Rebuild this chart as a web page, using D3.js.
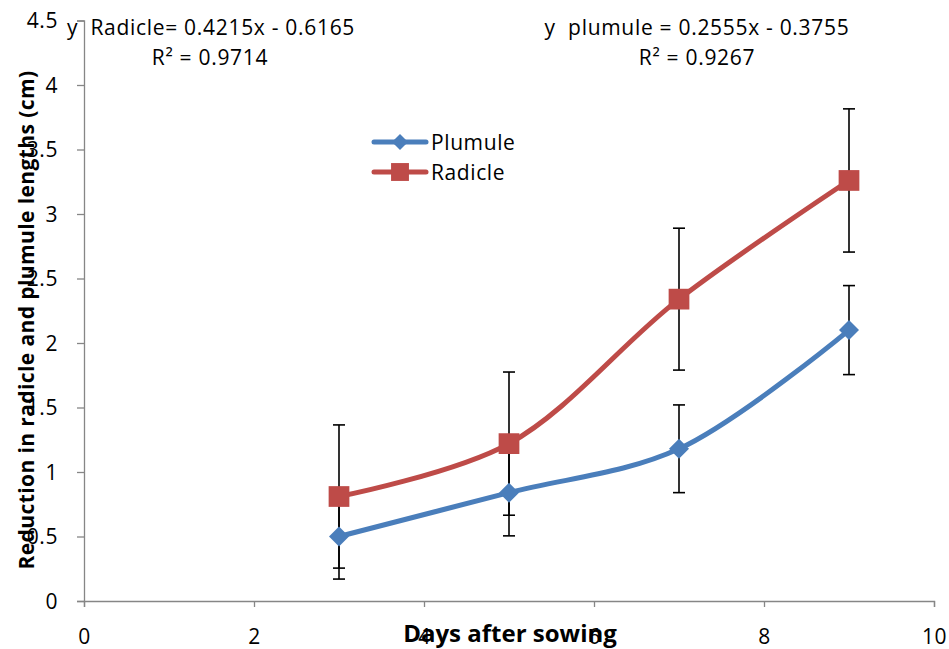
<!DOCTYPE html>
<html>
<head>
<meta charset="utf-8">
<script src="https://cdn.jsdelivr.net/npm/d3@7"></script>
<style>
  body { margin: 0; background: #fff; }
  svg { font-family: "Open Sans", Lato, sans-serif; }
</style>
</head>
<body>
<svg></svg>
<script>
// values
let days = [3, 5, 7, 9];
let plumule = [0.5, 0.84, 1.18, 2.1];
let plumuleErr = [0.33, 0.335, 0.34, 0.345];
let radicle = [0.81, 1.22, 2.34, 3.26];
let radicleErr = [0.555, 0.555, 0.55, 0.555];
let xTicks = [0, 2, 4, 6, 8, 10];
let yTicks = [0, 0.5, 1, 1.5, 2, 2.5, 3, 3.5, 4, 4.5];

let width = 949;
let height = 649;
let plotLeft = 84;
let plotRight = 934;
let plotTop = 20.5;
let plotBottom = 601;

let svg = d3.select("svg").attr("width", width).attr("height", height);

let xScale = d3.scaleLinear().domain([0, 10]).range([plotLeft, plotRight]);
let yScale = d3.scaleLinear().domain([0, 4.5]).range([plotBottom, plotTop]);

let blue = "#4a7ebb";
let red = "#be4b48";
let axisGray = "#868686";

// axes
let xAxis = d3.axisBottom(xScale).tickValues(xTicks).tickSize(6).tickPadding(22).tickFormat(d3.format("d"));
let yAxis = d3.axisLeft(yScale).tickValues(yTicks).tickSize(7).tickPadding(19).tickFormat((d) => String(d));

let gx = svg.append("g").attr("transform", `translate(0, ${plotBottom})`).call(xAxis);
let gy = svg.append("g").attr("transform", `translate(${plotLeft}, 0)`).call(yAxis);

[gx, gy].forEach((g) => {
  g.select(".domain").attr("stroke", axisGray).attr("stroke-width", 1.3);
  g.selectAll(".tick line").attr("stroke", axisGray).attr("stroke-width", 1.3);
  g.selectAll(".tick text")
    .attr("fill", "#000")
    .style("font-size", "21px")
    .style("letter-spacing", "0.6px")
    .style("font-family", "Open Sans");
});
gy.selectAll(".tick text").attr("dy", "0.35em");

// axis titles
svg.append("text")
  .attr("x", 510)
  .attr("y", 642)
  .attr("text-anchor", "middle")
  .style("font-size", "24px")
  .style("font-weight", "bold")
  .text("Days after sowing");

svg.append("text")
  .attr("transform", "translate(34, 320) rotate(-90)")
  .attr("text-anchor", "middle")
  .style("font-size", "21px")
  .style("letter-spacing", "0.4px")
  .style("font-weight", "bold")
  .text("Reduction in radicle and plumule lengths (cm)");

let series = [
  { name: "Plumule", values: plumule, err: plumuleErr, color: blue, marker: d3.symbolSquare, rot: 45, size: 200, legendSize: 130 },
  { name: "Radicle", values: radicle, err: radicleErr, color: red, marker: d3.symbolSquare, rot: 0, size: 430, legendSize: 320 },
];

// error bars
series.forEach((s) => {
  let g = svg.append("g").attr("stroke", "#000").attr("stroke-width", 1.6);
  days.forEach((d, i) => {
    let x = xScale(d);
    let lo = yScale(s.values[i] - s.err[i]);
    let hi = yScale(s.values[i] + s.err[i]);
    g.append("line").attr("x1", x).attr("x2", x).attr("y1", lo).attr("y2", hi);
    g.append("line").attr("x1", x - 6).attr("x2", x + 6).attr("y1", lo).attr("y2", lo);
    g.append("line").attr("x1", x - 6).attr("x2", x + 6).attr("y1", hi).attr("y2", hi);
  });
});

// smoothed lines and markers
let line = d3.line()
  .x((d) => xScale(d[0]))
  .y((d) => yScale(d[1]))
  .curve(d3.curveCatmullRom.alpha(0.5));

series.forEach((s) => {
  let pts = days.map((d, i) => [d, s.values[i]]);
  svg.append("path")
    .datum(pts)
    .attr("fill", "none")
    .attr("stroke", s.color)
    .attr("stroke-width", 5)
    .attr("stroke-linecap", "round")
    .attr("d", line);
  svg.selectAll(null)
    .data(pts)
    .enter()
    .append("path")
    .attr("transform", (d) => `translate(${xScale(d[0])}, ${yScale(d[1])}) rotate(${s.rot})`)
    .attr("d", d3.symbol().type(s.marker).size(s.size))
    .attr("fill", s.color);
});

// legend
series.forEach((s, i) => {
  let y = 142 + i * 30;
  let g = svg.append("g");
  g.append("line")
    .attr("x1", 374).attr("x2", 426)
    .attr("y1", y).attr("y2", y)
    .attr("stroke", s.color).attr("stroke-width", 5).attr("stroke-linecap", "round");
  g.append("path")
    .attr("transform", `translate(400, ${y}) rotate(${s.rot})`)
    .attr("d", d3.symbol().type(s.marker).size(s.legendSize))
    .attr("fill", s.color);
  g.append("text")
    .attr("x", 431).attr("y", y + 8)
    .style("font-size", "21px")
    .style("letter-spacing", "0.6px")
    .text(s.name);
});

// trendline equations
let notes = [
  { text: "y  Radicle= 0.4215x - 0.6165", x: 211, y: 35 },
  { text: "R\u00b2 = 0.9714", x: 210, y: 65 },
  { text: "y  plumule = 0.2555x - 0.3755", x: 697, y: 35 },
  { text: "R\u00b2 = 0.9267", x: 697, y: 65 },
];
svg.selectAll(null)
  .data(notes)
  .enter()
  .append("text")
  .attr("x", (d) => d.x)
  .attr("y", (d) => d.y)
  .attr("text-anchor", "middle")
  .style("font-size", "21px")
  .style("letter-spacing", "0.7px")
  .style("white-space", "pre")
  .text((d) => d.text);
</script>
</body>
</html>
